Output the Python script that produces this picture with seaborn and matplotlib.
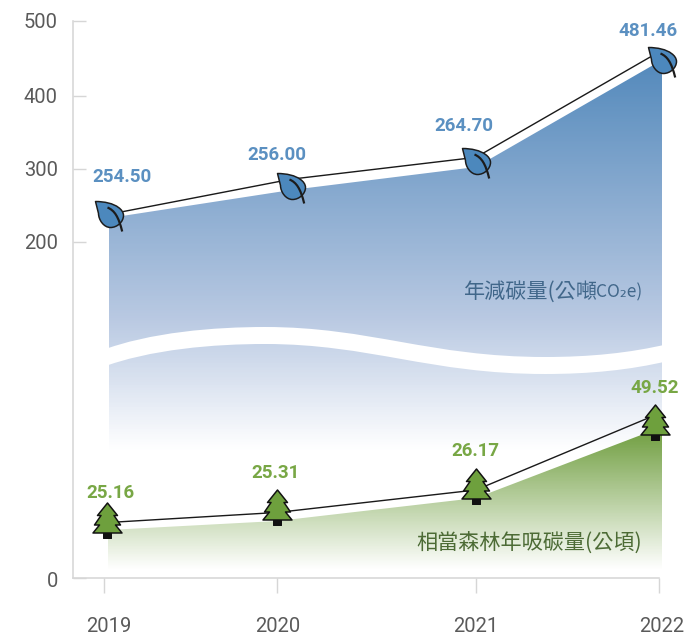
import numpy as np
import matplotlib
matplotlib.use("Agg")
import matplotlib.pyplot as plt
from matplotlib.path import Path
from matplotlib.patches import PathPatch, Polygon
from matplotlib.colors import LinearSegmentedColormap
from matplotlib.transforms import ScaledTranslation
import seaborn as sns

# ---------- data ----------
years = [2019, 2020, 2021, 2022]
carbon_labels = ["254.50", "256.00", "264.70", "481.46"]
forest_labels = ["25.16", "25.31", "26.17", "49.52"]
y_ticks = [0, 200, 300, 400, 500]

carbon_x = [2019.03, 2020.07, 2021.0, 2022.016]
carbon_line = [238, 286, 316, 461]
carbon_area = [233, 271, 303, 448]
carbon_leaf = [236, 274, 308, 445]

forest_x = [2019.02, 2020.0, 2021.0, 2021.98]
forest_area_x = [2019.025, 2020.0, 2021.0, 2022.016]
forest_line = [33, 39, 52.4, 97]
forest_area = [28.6, 34, 47.6, 90]
forest_tree = [34.5, 42, 55, 93]

carbon_title_cjk = "年減碳量(公噸"
carbon_title_unit = "CO₂e)"
forest_title = "相當森林年吸碳量(公頃)"

# ---------- style ----------
sns.set_theme(style="white")
plt.rcParams["font.family"] = ["Roboto", "Noto Sans CJK TC", "DejaVu Sans"]
TITLE_FONT = ["Noto Sans CJK TC", "DejaVu Sans"]
W, H = 684, 635
GREY, AXC = "#5a5a5a", "#d6d6d6"
BLUE, GREEN = "#5b90c1", "#78a745"
px = 0.72  # points per pixel at dpi 100

# piecewise axes (the original has a broken y axis and uneven years)
xk_d, xk_p = [2018, 2019, 2020, 2021, 2022, 2023], [-69, 104, 277, 476, 659, 842]
yk_d, yk_p = [-100, 0, 200, 300, 400, 500, 600], [746, 578, 242, 169, 96, 21, -54]
fx = lambda v: np.interp(v, xk_d, xk_p)
gx = lambda v: np.interp(v, xk_p, xk_d)
fy = lambda v: -np.interp(v, yk_d, yk_p)
gy = lambda v: np.interp(-np.asarray(v), yk_p[::-1], yk_d[::-1])

fig = plt.figure(figsize=(W / 100, H / 100), dpi=100, facecolor="white")
ax = fig.add_axes([73 / W, (H - 578) / H, (659 - 73) / W, (578 - 21) / H])
ax.set_xscale("function", functions=(fx, gx))
ax.set_yscale("function", functions=(fy, gy))
ax.set_xlim(gx(73.0), 2022)
ax.set_ylim(0, 500)


def gradient(xs, ys, base, stops, top_px, bot_px):
    poly = list(zip(xs, ys)) + [(xs[-1], base), (xs[0], base)]
    patch = Polygon(poly, closed=True, transform=ax.transData)
    levels = np.linspace(top_px, bot_px, 240)
    Y = np.interp(levels, yk_p[::-1], yk_d[::-1])
    X = [xs[0], xs[-1]]
    C = np.linspace(1, 0, 239)[:, None]
    cmap = LinearSegmentedColormap.from_list("g", stops)
    m = ax.pcolormesh(X, Y, C, cmap=cmap, vmin=0, vmax=1, shading="flat", zorder=1)
    m.set_clip_box(None)
    m.set_clip_path(patch)


gradient(carbon_x, carbon_area, 70, [(0, "#ffffff"), (0.33, "#b9c9e2"), (1, "#5087ba")], 52, 452)
gradient(forest_area_x, forest_area, 3, [(0, "#ffffff"), (1, "#6a9a38")], 424, 570)

# white wavy break
wave_x = [100, 150, 215, 265, 370, 430, 545, 590, 630, 668]
wave_y = [351, 332, 327, 327, 327, 357, 357, 357, 353, 344]
band = 17
verts = [(x, y) for x, y in zip(wave_x, wave_y)]
verts += [(x, y + band) for x, y in zip(wave_x[::-1], wave_y[::-1])] + [verts[0]]
codes = [Path.MOVETO] + [Path.CURVE4] * 9 + [Path.LINETO] + [Path.CURVE4] * 9 + [Path.CLOSEPOLY]
ov = fig.add_axes([0, 0, 1, 1])
ov.set_xlim(0, W); ov.set_ylim(H, 0); ov.axis("off"); ov.patch.set_alpha(0)
ov.add_patch(PathPatch(Path(verts, codes), fc="white", ec="none"))
ax.set_zorder(1)
ax.patch.set_alpha(0)
ov.set_zorder(2)

# marker shapes, in pixels around their centre
leaf_v = [(-14, 15), (-5, 15), (4, 13), (9, 9), (12, 7), (14, 4), (14, 1),
          (14, -5), (8, -11), (1, -11), (-6, -11), (-11, -3), (-11, 3),
          (-12, 7), (-13, 11), (-14, 15), (-14, 15)]
leaf = Path(leaf_v, [Path.MOVETO] + [Path.CURVE4] * 15 + [Path.CLOSEPOLY])
vein = Path([(-2, 9), (5, 6), (9, 0), (12.7, -15)], [Path.MOVETO] + [Path.CURVE4] * 3)
tree_v = [(0, 17.5), (10, 5), (6.5, 5), (13, -4.5), (8, -4.5), (14.5, -12.5),
          (-14.5, -12.5), (-8, -4.5), (-13, -4.5), (-6.5, 5), (-10, 5), (0, 17.5)]
tree = Path(tree_v, closed=True)
trunk = Path([(-4.2, -12), (4.2, -12), (4.2, -18), (-4.2, -18), (-4.2, -12)], closed=True)


def msize(p):
    return 2 * np.abs(p.vertices).max() * px


def marks(x, y, path, fc, ec, lw, z):
    sns.lineplot(x=x, y=y, ax=ax, linestyle="none", marker=path, ms=msize(path),
                 mfc=fc, mec=ec, mew=lw * px, clip_on=False, zorder=z, errorbar=None, sort=False)


sns.lineplot(x=carbon_x, y=carbon_line, ax=ax, color="#1a1a1a", lw=1.4 * px, zorder=3,
             clip_on=False, errorbar=None, sort=False)
sns.lineplot(x=forest_x, y=forest_line, ax=ax, color="#1a1a1a", lw=1.4 * px, zorder=3,
             clip_on=False, errorbar=None, sort=False)
marks(carbon_x, carbon_leaf, leaf, "#4c88bd", "#1c1c1c", 1.5, 4)
marks(carbon_x, carbon_leaf, vein, "none", "#1c1c1c", 2.2, 5)
marks(forest_x, forest_tree, trunk, "#111111", "#111111", 1, 4)
marks(forest_x, forest_tree, tree, "#6ea03d", "#111111", 1.5, 5)

# value labels, offset in pixels from their marker
carbon_off = [(13, 39), (-14, 33), (-12, 37), (-14, 31)]
forest_off = [(3, 27), (-1, 34.5), (-1, 34.5), (-1, 33.5)]
for xs, ys, labs, off, col in [(carbon_x, carbon_leaf, carbon_labels, carbon_off, BLUE),
                               (forest_x, forest_tree, forest_labels, forest_off, GREEN)]:
    for x, y, s, (dx, dy) in zip(xs, ys, labs, off):
        ax.annotate(s, (x, y), xytext=(dx * px, dy * px), textcoords="offset points",
                    ha="center", va="center", fontsize=13.5, fontweight="bold", color=col,
                    annotation_clip=False, zorder=6)

ov.text(598, 292, carbon_title_cjk, ha="right", va="center", fontsize=15.2, color="#41678a",
        family=TITLE_FONT)
ov.text(642, 292, carbon_title_unit, ha="right", va="center", fontsize=12.5, color="#41678a",
        family=TITLE_FONT)
ov.text(642, 543, forest_title, ha="right", va="center", fontsize=15.2, color="#4c6b35",
        family=TITLE_FONT)

# axes furniture
sns.despine(ax=ax)
for s in ("left", "bottom"):
    ax.spines[s].set_color(AXC)
    ax.spines[s].set_linewidth(1.6 * px)
ax.set_xticks(years)
ax.set_xticklabels([str(y) for y in years])
ax.set_yticks(y_ticks)
ax.set_yticklabels([str(y) for y in y_ticks])
ax.minorticks_off()
ax.tick_params(axis="x", length=15 * px, width=1.4 * px, color=AXC, direction="out",
               pad=24 * px, labelsize=14.5, labelcolor=GREY, bottom=True)
ax.tick_params(axis="y", length=13 * px, width=1.4 * px, color=AXC, direction="in",
               pad=15 * px, labelsize=14.5, labelcolor=GREY, left=True)
for lab, dx in zip(ax.get_xticklabels(), [5, 1, 0, 3]):
    lab.set_transform(lab.get_transform() + ScaledTranslation(dx / 100, 0, fig.dpi_scale_trans))
for lab, dy in zip(ax.get_yticklabels(), [-2, 0, 0, 0, 0]):
    lab.set_transform(lab.get_transform() + ScaledTranslation(0, dy / 100, fig.dpi_scale_trans))

fig.savefig("out.png", dpi=100)
